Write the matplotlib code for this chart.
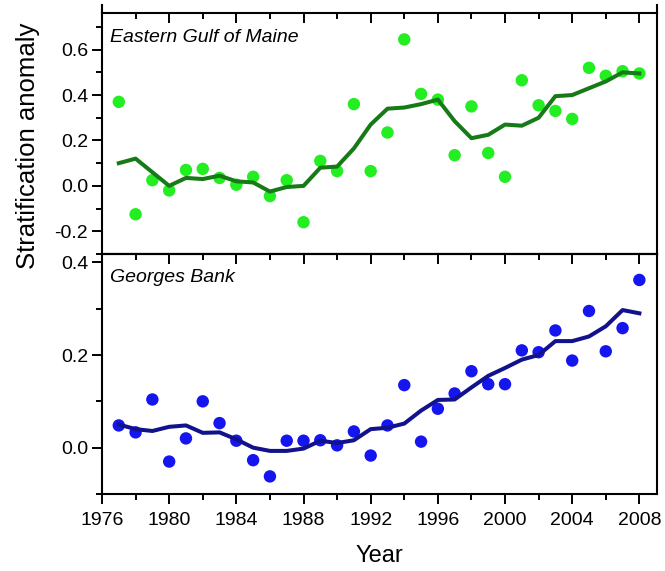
"""Stratification anomaly for Eastern Gulf of Maine and Georges Bank, 1977-2008."""
import matplotlib

matplotlib.use("Agg")
import matplotlib.pyplot as plt
from matplotlib.ticker import MultipleLocator, NullFormatter

plt.rcParams["font.family"] = ["Liberation Sans", "DejaVu Sans"]

years = list(range(1977, 2009))

egom_points = [
    0.37, -0.125, 0.025, -0.02, 0.07, 0.075, 0.035, 0.005, 0.04, -0.045,
    0.025, -0.16, 0.11, 0.065, 0.36, 0.065, 0.235, 0.645, 0.405, 0.38,
    0.135, 0.35, 0.145, 0.04, 0.465, 0.355, 0.33, 0.295, 0.52, 0.485,
    0.505, 0.495,
]
egom_smooth = [
    0.10, 0.12, 0.06, 0.0, 0.035, 0.03, 0.045, 0.02, 0.015, -0.025,
    -0.005, 0.0, 0.08, 0.085, 0.165, 0.27, 0.34, 0.345, 0.36, 0.38,
    0.285, 0.21, 0.225, 0.27, 0.265, 0.30, 0.395, 0.40, 0.43, 0.46,
    0.50, 0.495,
]

gb_points = [
    0.048, 0.033, 0.104, -0.03, 0.02, 0.10, 0.053, 0.015, -0.027, -0.062,
    0.015, 0.015, 0.016, 0.005, 0.035, -0.017, 0.048, 0.135, 0.013, 0.084,
    0.117, 0.165, 0.137, 0.137, 0.21, 0.206, 0.253, 0.188, 0.295, 0.208,
    0.258, 0.362,
]
gb_smooth = [
    0.05, 0.04, 0.036, 0.045, 0.048, 0.032, 0.033, 0.018, 0.0, -0.007,
    -0.007, -0.002, 0.015, 0.01, 0.016, 0.04, 0.043, 0.052, 0.08, 0.103,
    0.104, 0.13, 0.155, 0.172, 0.19, 0.20, 0.23, 0.23, 0.24, 0.262,
    0.297, 0.29,
]

W, H = 665, 571
fig = plt.figure(figsize=(W / 100, H / 100), dpi=100)

left = 102 / W
width = (657 - 102) / W
ax_top = fig.add_axes([left, 1 - 254 / H, width, (254 - 13.3) / H])
ax_bot = fig.add_axes([left, 1 - 494 / H, width, (494 - 254) / H])


def _x_ticks(axis_owner, direction, **kwargs):
    axis_owner.xaxis.set_major_locator(MultipleLocator(4))
    axis_owner.xaxis.set_minor_locator(MultipleLocator(2))
    axis_owner.tick_params(axis="x", which="both", direction=direction,
                           labelsize=14, width=1.4, pad=6, **kwargs)
    axis_owner.tick_params(axis="x", which="major", length=7)
    axis_owner.tick_params(axis="x", which="minor", length=4.5)


def _style(ax, ylim, label):
    for spine in ax.spines.values():
        spine.set_linewidth(1.5)
    ax.set_xlim(1976, 2009.05)
    ax.set_ylim(*ylim)
    ax.yaxis.set_major_locator(MultipleLocator(0.2))
    ax.yaxis.set_minor_locator(MultipleLocator(0.1))
    ax.yaxis.set_major_formatter(lambda v, _: f"{v:.1f}")
    ax.tick_params(axis="y", which="both", direction="out", left=True, right=False,
                   labelsize=14, width=1.4, pad=3)
    ax.tick_params(axis="y", which="major", length=7)
    ax.tick_params(axis="y", which="minor", length=4.5)
    ax.text(0.015, 0.90, label, transform=ax.transAxes, fontsize=14,
            style="italic", ha="left", va="center")


# top panel
ax_top.scatter(years, egom_points, s=80, color="#22ee22", edgecolors="none", zorder=2)
ax_top.plot(years, egom_smooth, color="#167a16", linewidth=2.9, zorder=3)
_style(ax_top, (-0.3, 0.76), "Eastern Gulf of Maine")
_x_ticks(ax_top, "in", top=True, bottom=False)
ax_top.xaxis.set_major_formatter(NullFormatter())
for x in (0, 1):
    ax_top.plot([x, x], [1, 1.035], transform=ax_top.transAxes, color="k",
                linewidth=1.5, clip_on=False)

# bottom panel
ax_bot.scatter(years, gb_points, s=80, color="#1515f0", edgecolors="none", zorder=2)
ax_bot.plot(years, gb_smooth, color="#12128c", linewidth=2.9, zorder=3)
_style(ax_bot, (-0.1, 0.418), "Georges Bank")
_x_ticks(ax_bot, "out", top=False, bottom=True)
ax_bot.xaxis.set_major_formatter(lambda v, _: f"{int(v)}")

sec = ax_bot.secondary_xaxis("top")
sec.spines["top"].set_linewidth(1.5)
_x_ticks(sec, "in", labeltop=False)
sec.xaxis.set_major_formatter(NullFormatter())

fig.text(379 / W, 1 - 556 / H, "Year", fontsize=17, ha="center", va="center")
fig.text(28 / W, 1 - 146 / H, "Stratification anomaly", fontsize=18.5,
         rotation=90, ha="center", va="center")

fig.savefig("out.png", dpi=100)
